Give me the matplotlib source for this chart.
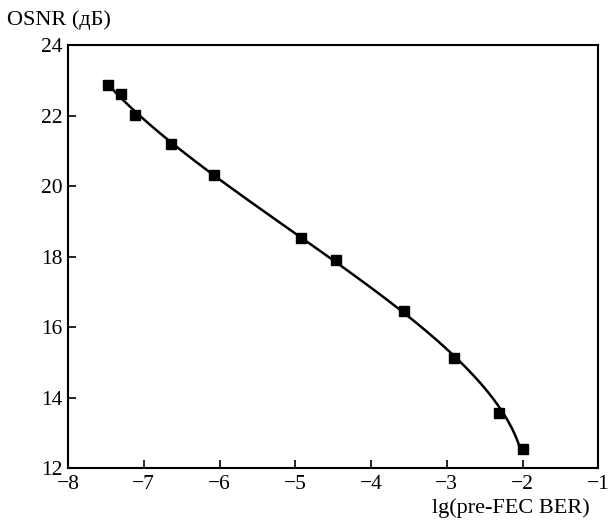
import matplotlib
matplotlib.use('Agg')
import matplotlib.pyplot as plt
import numpy as np

plt.rcParams['font.family'] = ['Liberation Serif', 'DejaVu Serif']

# измеренные точки
ber_lg = [-7.47, -7.30, -7.11, -6.64, -6.07, -4.92, -4.46, -3.56, -2.90, -2.31, -1.99]
osnr = [22.87, 22.63, 22.01, 21.19, 20.31, 18.52, 17.90, 16.45, 15.12, 13.56, 12.53]

xticks = [-8, -7, -6, -5, -4, -3, -2, -1]
yticks = [12, 14, 16, 18, 20, 22, 24]

fig = plt.figure(figsize=(6.13, 5.2), dpi=100)
ax = fig.add_axes([0.111, 0.1, 0.865, 0.813])

# сглаживающая кривая: x как полином от y
c = np.polyfit(osnr, ber_lg, 3)
yy = np.linspace(osnr[-1], osnr[0], 200)
ax.plot(np.polyval(c, yy), yy, color='black', lw=1.8)
ax.plot(ber_lg, osnr, 's', color='black', ms=7.5)

ax.set_xlim(-8, -1)
ax.set_ylim(12, 24)
ax.set_xticks(xticks)
ax.set_yticks(yticks)
ax.set_xticklabels(['\u2212%d' % abs(t) for t in xticks])
ax.tick_params(direction='in', length=6, width=1.2, labelsize=15.5,
               top=False, right=False)
ax.tick_params(axis='x', pad=5)
ax.tick_params(axis='y', pad=4)
for s in ax.spines.values():
    s.set_linewidth(1.5)

fig.text(0.012, 0.962, 'OSNR (дБ)', fontsize=16, va='center', ha='left')
fig.text(0.962, 0.022, 'lg(pre-FEC BER)', fontsize=16, va='center', ha='right')

plt.savefig('out.png', dpi=100)
